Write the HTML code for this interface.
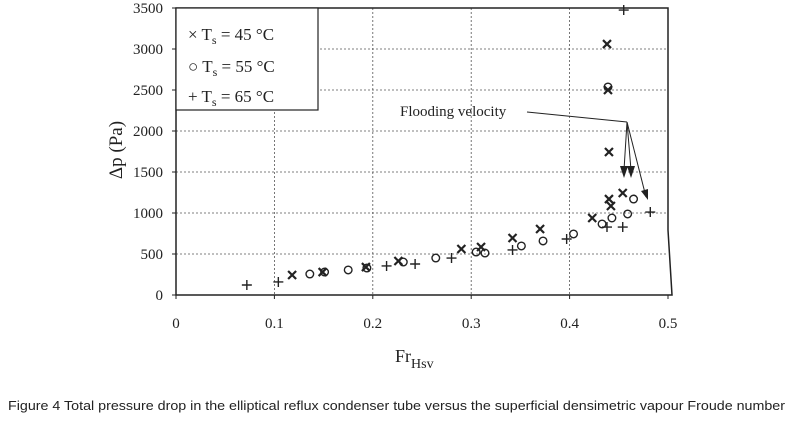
<!DOCTYPE html>
<html><head><meta charset="utf-8"><style>
body{margin:0;background:#fff;width:790px;height:424px;overflow:hidden}
svg text{font-family:"Liberation Serif",serif;fill:#222}
</style></head><body>
<svg width="790" height="424">
<g id="grid"></g><g id="axes"></g><g id="marks"></g>
<g>
<rect x="176" y="8" width="142" height="102" fill="#fff" stroke="#222" stroke-width="1.2"/>
<text x="188" y="40" font-size="17">× T<tspan font-size="12" dy="4">s</tspan><tspan dy="-4"> = 45 °C</tspan></text>
<text x="188" y="72" font-size="17">○ T<tspan font-size="12" dy="4">s</tspan><tspan dy="-4"> = 55 °C</tspan></text>
<text x="188" y="102" font-size="17">+ T<tspan font-size="12" dy="4">s</tspan><tspan dy="-4"> = 65 °C</tspan></text>
</g>
<g>
<text x="400" y="116" font-size="15">Flooding velocity</text>
<polyline points="527,112 627,122" fill="none" stroke="#222"/>
<line x1="627" y1="122" x2="624" y2="170" stroke="#222"/>
<line x1="627" y1="122" x2="631" y2="170" stroke="#222"/>
<line x1="627" y1="122" x2="646" y2="197" stroke="#222"/>
<polygon points="620,166 628,166 624,178" fill="#222"/>
<polygon points="627,166 635,166 631,178" fill="#222"/>
<polygon points="641,191 648,189 648,200" fill="#222"/>
</g>
<text x="122" y="150" font-size="19" transform="rotate(-90 122 150)" text-anchor="middle">Δp (Pa)</text>
<text x="395" y="362" font-size="18">Fr<tspan font-size="14" dy="6">Hsv</tspan></text>
<text x="8" y="410" font-size="12.5" textLength="777" lengthAdjust="spacingAndGlyphs" style="font-family:'Liberation Sans',sans-serif">Figure 4 Total pressure drop in the elliptical reflux condenser tube versus the superficial densimetric vapour Froude number</text>
</svg>
<script>
const xTicks=[0,0.1,0.2,0.3,0.4,0.5];
const yTicks=[0,500,1000,1500,2000,2500,3000,3500];
const fr45=[0.118,0.149,0.193,0.226,0.290,0.310,0.342,0.370,0.423,0.442,0.440,0.454,0.440,0.439,0.438];
const dp45=[244,280,341,415,561,585,695,805,939,1085,1170,1244,1744,2500,3060];
const fr55=[0.136,0.151,0.175,0.194,0.231,0.264,0.305,0.314,0.351,0.373,0.404,0.433,0.443,0.459,0.465,0.439];
const dp55=[256,280,305,329,402,451,524,512,598,659,744,866,939,988,1170,2537];
const fr65=[0.072,0.104,0.214,0.243,0.280,0.342,0.397,0.438,0.454,0.482,0.455];
const dp65=[122,159,354,378,451,549,683,829,829,1012,3475];
const X=v=>176+v*984, Y=p=>295-p*0.082;
const NS="http://www.w3.org/2000/svg";
function mk(tag,attrs,parent){const e=document.createElementNS(NS,tag);for(const k in attrs)e.setAttribute(k,attrs[k]);document.getElementById(parent).appendChild(e);return e;}
yTicks.forEach(t=>{
 if(t>0){const g=mk('line',{x1:176,x2:668,y1:Y(t),y2:Y(t),stroke:'#555','stroke-dasharray':'2,2','stroke-width':0.8},'grid');
 
 }
 const l=mk('text',{x:163,y:Y(t)+5,'font-size':15,'text-anchor':'end'},'axes');l.textContent=t;
 
 
 mk('line',{x1:172,x2:176,y1:Y(t),y2:Y(t),stroke:'#222'},'axes');
});
xTicks.forEach(t=>{
 if(t>0&&t<0.5){const g=mk('line',{x1:X(t),x2:X(t),y1:8,y2:295,stroke:'#555','stroke-dasharray':'2,2','stroke-width':0.8},'grid');
 
 }
 const l=mk('text',{x:X(t),y:328,'font-size':15,'text-anchor':'middle'},'axes');l.textContent=t;
 
 
 mk('line',{x1:X(t),x2:X(t),y1:295,y2:299,stroke:'#222'},'axes');
});
const fr=mk('path',{d:'M176,8 L668,8 L668,230 L672,295 L176,295 Z',fill:'none',stroke:'#222','stroke-width':1.5},'axes');


fr45.forEach((v,i)=>{const x=X(v),y=Y(dp45[i]);
 const m=mk('path',{d:`M${x-4},${y-4}L${x+4},${y+4}M${x-4},${y+4}L${x+4},${y-4}`,stroke:'#222','stroke-width':2.2},'marks');
 
 });
fr55.forEach((v,i)=>{
 const m=mk('circle',{cx:X(v),cy:Y(dp55[i]),r:3.8,fill:'none',stroke:'#222','stroke-width':1.4},'marks');
 
 });
fr65.forEach((v,i)=>{const x=X(v),y=Y(dp65[i]);
 const m=mk('path',{d:`M${x-5},${y}L${x+5},${y}M${x},${y-5}L${x},${y+5}`,stroke:'#222','stroke-width':1.4},'marks');
 
 });
</script>
</body></html>
